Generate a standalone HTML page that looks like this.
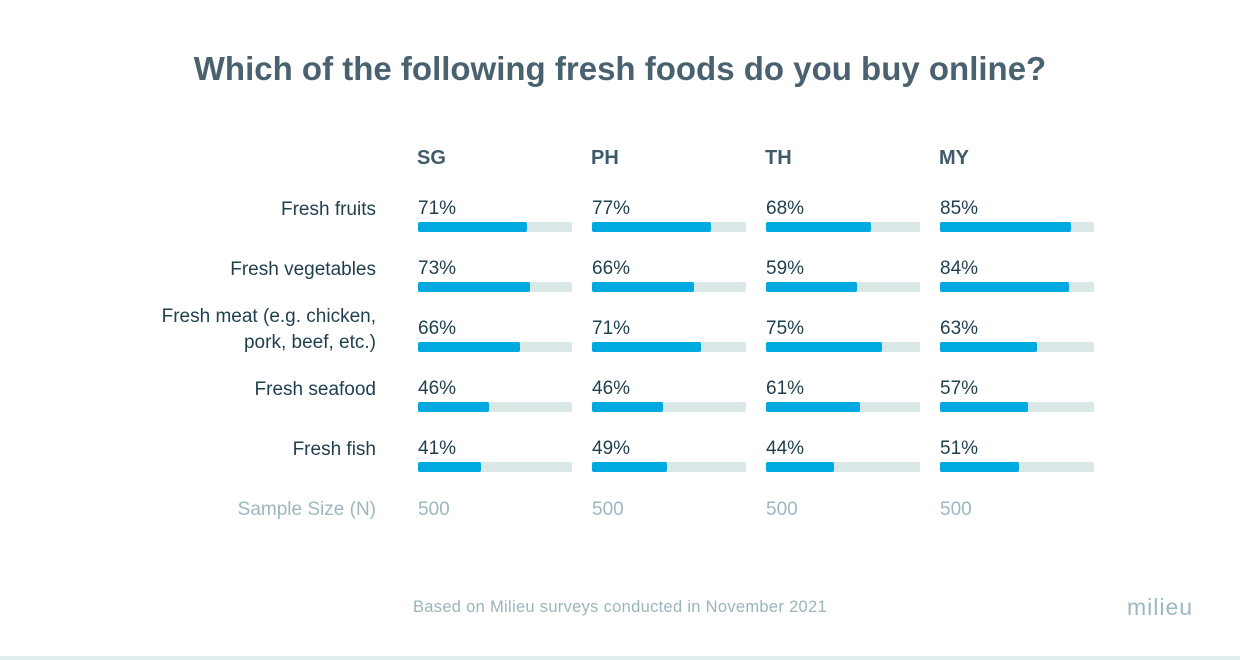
<!DOCTYPE html>
<html><head><meta charset="utf-8"><style>
body{margin:0;width:1240px;height:660px;background:#fff;font-family:"Liberation Sans",sans-serif;position:relative;overflow:hidden}
.t{position:absolute;white-space:nowrap}
#title{left:0;width:1240px;text-align:center;top:50px;font-size:33px;font-weight:bold;color:#4a6170}
.hdr{font-size:20px;font-weight:bold;color:#3f5a69;top:147px}
.lab{font-size:19px;color:#1f3f4d;text-align:right;right:864px;line-height:26px}
.val{font-size:19px;color:#1f3f4d}
.track{position:absolute;height:10px;width:154px;background:#dae7e7;border-radius:2px}
.fill{position:absolute;left:0;top:0;height:10px;background:#00a9df;border-radius:2px}
.ss{font-size:19px;color:#9db7be}
#foot{left:0;width:1240px;text-align:center;top:598px;font-size:16.5px;color:#9ab5bc;letter-spacing:0.3px}
#logo{left:1127px;top:594px;font-size:23px;color:#9ab9c2;letter-spacing:1px}
#line{position:absolute;left:0;top:656px;width:1240px;height:4px;background:#e3eeee}
</style></head><body>
<div class="t" id="title">Which of the following fresh foods do you buy online?</div>
<div class="t ss" style="right:864px;top:499px">Sample Size (N)</div>
<div class="t" id="foot">Based on Milieu surveys conducted in November 2021</div>
<div class="t" id="logo">milieu</div>
<div id="line"></div>
<script>
const countries=["SG","PH","TH","MY"];
const categories=["Fresh fruits","Fresh vegetables","Fresh meat (e.g. chicken,<br>pork, beef, etc.)","Fresh seafood","Fresh fish"];
const sgValues=[71,73,66,46,41];
const phValues=[77,66,71,46,49];
const thValues=[68,59,75,61,44];
const myValues=[85,84,63,57,51];
const sampleSizes=[500,500,500,500];
const series=[sgValues,phValues,thValues,myValues];
const colX=i=>418+i*174;
const rowY=j=>196+j*60;
const barW=v=>v/100*154;
function mk(cls,html,style){const d=document.createElement('div');d.className=cls;d.innerHTML=html;d.style.cssText=style;document.body.appendChild(d);return d;}
countries.forEach((c,i)=>{
  const h=mk('t hdr',c,`left:${colX(i)-1}px`);
  
  
  const s=mk('t ss',sampleSizes[i],`left:${colX(i)}px;top:499px`);
  
  
});
categories.forEach((cat,j)=>{
  const multi=cat.includes('<br>');
  const l=mk('t lab',cat,`top:${multi?rowY(j)-12:rowY(j)+1}px`);
  
  
  series.forEach((arr,i)=>{
    const v=arr[j];
    const t=mk('t val',v+'%',`left:${colX(i)}px;top:${rowY(j)+2}px`);
    
    
    const tr=mk('track','',`left:${colX(i)}px;top:${rowY(j)+26}px`);
    
    
    const f=mk('fill','',`width:${barW(v)}px`);
    tr.appendChild(f);
    
    
  });
});
</script>
</body></html>
